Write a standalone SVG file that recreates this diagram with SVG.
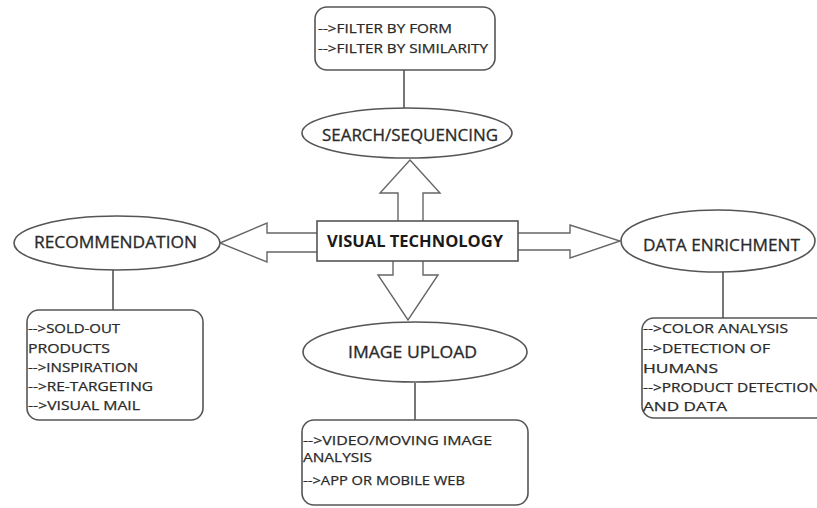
<svg xmlns="http://www.w3.org/2000/svg" width="817" height="508" viewBox="0 0 817 508">
<style>
.shape{fill:#fff;stroke:#555;stroke-width:1.6}
.line{fill:none;stroke:#555;stroke-width:1.6}
.arrow{fill:#fff;stroke:#666;stroke-width:1.4;stroke-linejoin:miter}
.t{font-family:"Open Sans","Liberation Sans",sans-serif;font-size:12.5px;fill:#2a2a2a;stroke:#2a2a2a;stroke-width:0.25}
.lbl{font-family:"Open Sans","Liberation Sans",sans-serif;font-size:16px;fill:#2a2a2a;stroke:#2a2a2a;stroke-width:0.3}
.bold{font-family:"Open Sans","Liberation Sans",sans-serif;font-size:15.5px;font-weight:bold;fill:#1a1a1a}
</style>
<rect width="817" height="508" fill="#fff"/>
<g id="connectors">
<line class="line" x1="404" y1="70" x2="404" y2="108"/>
<line class="line" x1="113" y1="270" x2="113" y2="310"/>
<line class="line" x1="723" y1="272" x2="723" y2="318"/>
<line class="line" x1="415" y1="383" x2="415" y2="420"/>
<polygon class="arrow" points="220,243 267,223 267,233 318,233 318,252 267,252 267,262"/>
<polygon class="arrow" points="410,160 440,193 423,193 423,222 398,222 398,193 380,193"/>
<polygon class="arrow" points="393,260 423,260 423,275 438,275 408,320 378,275 393,275"/>
<polygon class="arrow" points="517,233 570,233 570,225 620,241 570,258 570,250 517,250"/>
</g>
<g id="filter-box">
<rect class="shape" x="315" y="7" width="180" height="63" rx="12"/>
<text class="t" x="318" y="33" textLength="134" lengthAdjust="spacingAndGlyphs">-->FILTER BY FORM</text>
<text class="t" x="318" y="53" textLength="170" lengthAdjust="spacingAndGlyphs">-->FILTER BY SIMILARITY</text>
</g>
<g id="search">
<ellipse class="shape" cx="407" cy="133" rx="105" ry="25"/>
<text class="lbl" x="322" y="141" textLength="176" lengthAdjust="spacingAndGlyphs">SEARCH/SEQUENCING</text>
</g>
<g id="visual-technology">
<rect class="shape" x="317" y="221" width="201" height="40"/>
<text class="bold" x="327" y="247" textLength="176" lengthAdjust="spacingAndGlyphs">VISUAL TECHNOLOGY</text>
</g>
<g id="recommendation">
<ellipse class="shape" cx="117" cy="243" rx="103" ry="27"/>
<text class="lbl" x="34" y="248" textLength="163" lengthAdjust="spacingAndGlyphs">RECOMMENDATION</text>
</g>
<g id="recommendation-box">
<rect class="shape" x="27" y="310" width="176" height="110" rx="12"/>
<text class="t" x="28" y="333" textLength="92" lengthAdjust="spacingAndGlyphs">-->SOLD-OUT</text>
<text class="t" x="28" y="353" textLength="82" lengthAdjust="spacingAndGlyphs">PRODUCTS</text>
<text class="t" x="28" y="372" textLength="110" lengthAdjust="spacingAndGlyphs">-->INSPIRATION</text>
<text class="t" x="28" y="391" textLength="125" lengthAdjust="spacingAndGlyphs">-->RE-TARGETING</text>
<text class="t" x="28" y="410" textLength="112" lengthAdjust="spacingAndGlyphs">-->VISUAL MAIL</text>
</g>
<g id="data-enrichment">
<ellipse class="shape" cx="718" cy="241" rx="97" ry="31"/>
<text class="lbl" x="643" y="251" textLength="157" lengthAdjust="spacingAndGlyphs">DATA ENRICHMENT</text>
</g>
<g id="data-box">
<rect class="shape" x="642" y="318" width="190" height="100" rx="12"/>
<text class="t" x="643" y="333" textLength="145" lengthAdjust="spacingAndGlyphs">-->COLOR ANALYSIS</text>
<text class="t" x="643" y="353" textLength="127" lengthAdjust="spacingAndGlyphs">-->DETECTION OF</text>
<text class="t" x="643" y="373" textLength="75" lengthAdjust="spacingAndGlyphs">HUMANS</text>
<text class="t" x="643" y="392" textLength="177" lengthAdjust="spacingAndGlyphs">-->PRODUCT DETECTION</text>
<text class="t" x="643" y="411" textLength="84" lengthAdjust="spacingAndGlyphs">AND DATA</text>
</g>
<g id="image-upload">
<ellipse class="shape" cx="415" cy="352" rx="112" ry="30"/>
<text class="lbl" x="348" y="358" textLength="129" lengthAdjust="spacingAndGlyphs">IMAGE UPLOAD</text>
</g>
<g id="image-box">
<rect class="shape" x="302" y="420" width="226" height="85" rx="12"/>
<text class="t" x="303" y="445" textLength="189" lengthAdjust="spacingAndGlyphs">-->VIDEO/MOVING IMAGE</text>
<text class="t" x="303" y="462" textLength="69" lengthAdjust="spacingAndGlyphs">ANALYSIS</text>
<text class="t" x="303" y="485" textLength="162" lengthAdjust="spacingAndGlyphs">-->APP OR MOBILE WEB</text>
</g>
</svg>
